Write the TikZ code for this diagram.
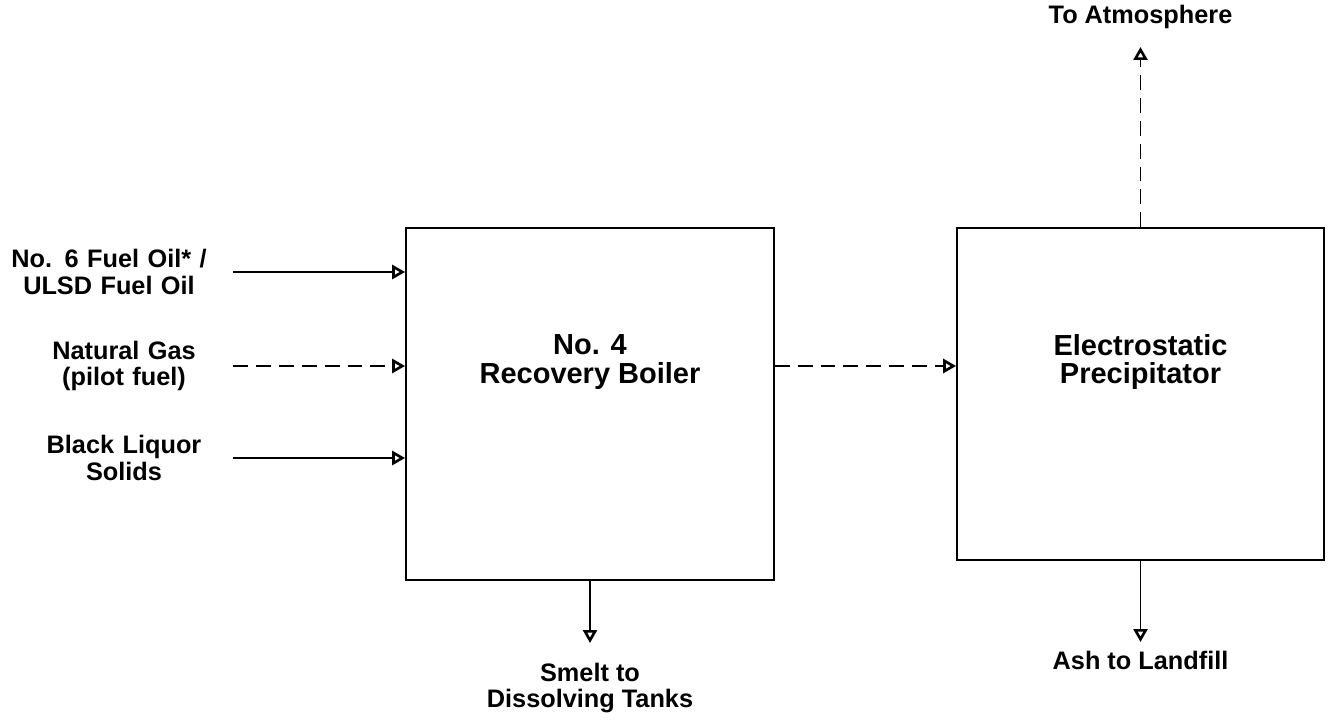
\documentclass[tikz,border=0pt]{standalone}
\usepackage{fontspec}
\setmainfont{Liberation Sans}
\usepackage{tikz}
\usetikzlibrary{arrows.meta, positioning}

\begin{document}
\begin{tikzpicture}[
  x=0.02cm, y=-0.02cm,
  unit/.style={draw, line width=1pt, minimum width=7.36cm, inner sep=0pt},
  unittext/.style={inner sep=0pt, align=center, font=\fontsize{16.5}{16.5}\selectfont\bfseries},
  feed/.style={inner sep=0pt, align=center, font=\fontsize{14.4}{15}\selectfont\bfseries},
  outlet/.style={inner sep=0pt, align=center, font=\fontsize{14.4}{15}\selectfont\bfseries},
  flow/.style={-{Triangle[open, length=0.26cm, width=0.28cm, line width=1.5pt]}, line width=1.1pt},
  gasflow/.style={flow, dash pattern=on 8.5pt off 4.5pt}
]
\useasboundingbox (0,0) rectangle (1329,723);

% process units
\node[unit, minimum height=7.04cm] (boiler) at (590, 404) {};
\node[unittext] (boilertext) at (590, 362) {No. 4\\Recovery Boiler};
\node[unit, minimum width=7.34cm, minimum height=6.64cm] (esp) at (1140.5, 394) {};
\node[unittext] (esptext) at (1140.5, 362) {Electrostatic\\Precipitator};

% inputs
\node[feed, text width=4.96cm] (fuel) at (109, 272) {No. 6 Fuel Oil* /\\ULSD Fuel Oil};
\node[feed, text width=4.36cm] (gas) at (124, 366) {Natural Gas\\(pilot fuel)};
\node[feed, text width=4.36cm] (bls) at (124, 458) {Black Liquor\\Solids};

% outputs
\node[outlet] (atmo) at (1140.5, 17) {To Atmosphere};
\node[outlet] (smelt) at (590, 688) {Smelt to\\Dissolving Tanks};
\node[outlet] (ash) at (1140.5, 660) {Ash to Landfill};
\coordinate (atmotip) at (1140.5, 47);
\coordinate (smelttip) at (590, 643);
\coordinate (ashtip) at (1140.5, 642);

\draw[flow] (fuel.east) -- (fuel.east -| boiler.west);
\draw[gasflow] (gas.east) -- (gas.east -| boiler.west);
\draw[flow] (bls.east) -- (bls.east -| boiler.west);

\draw[gasflow] (gas -| boiler.east) -- (gas -| esp.west);
\draw[gasflow] (esp.north) -- (atmotip);
\draw[flow] (boiler.south) -- (smelttip);
\draw[flow] (esp.south) -- (ashtip);
\end{tikzpicture}
\end{document}
